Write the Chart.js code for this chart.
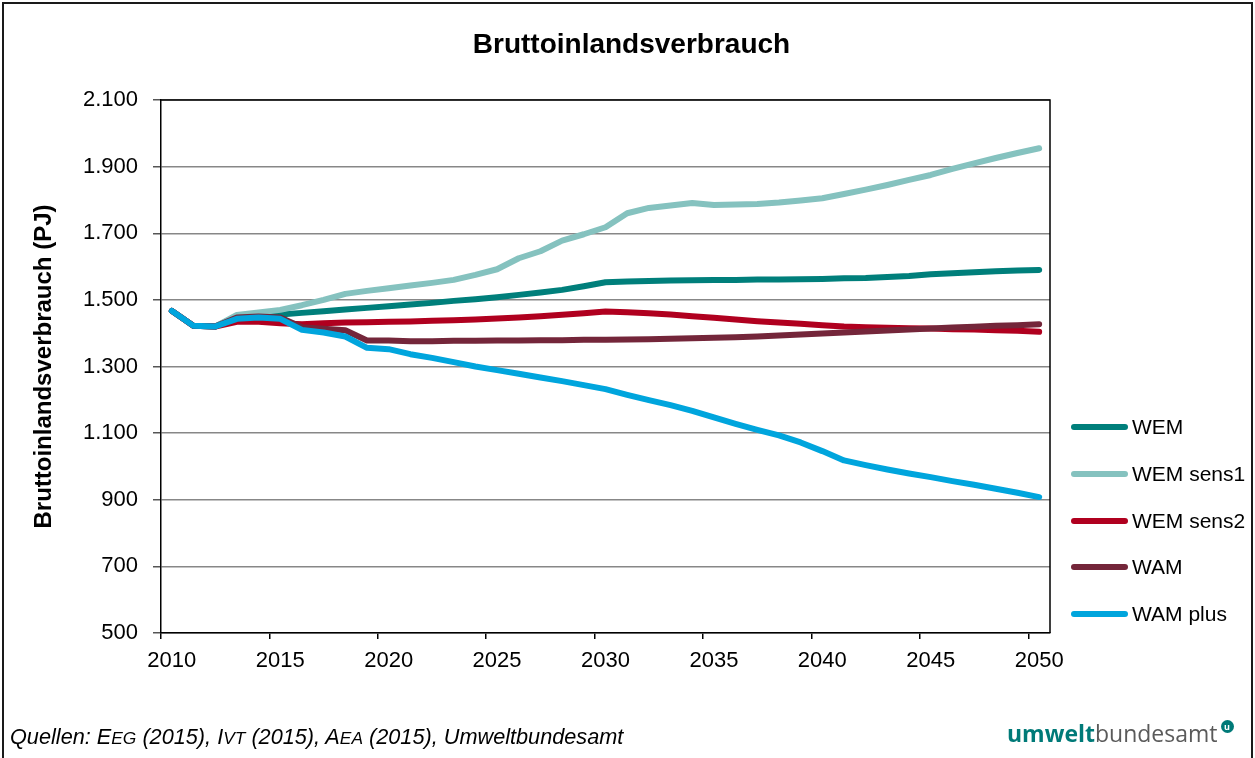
<!DOCTYPE html>
<html>
<head>
<meta charset="utf-8">
<script src="https://cdn.jsdelivr.net/npm/chart.js@4"></script>
<style>
    body { margin: 0; background: #fff; font-family: "Liberation Sans", Arial, sans-serif; }
    #wrap { position: relative; width: 1255px; height: 758px; overflow: hidden; }
    #frame { position: absolute; left: 2px; top: 2px; width: 1247px; height: 800px; border: 2px solid #1a1a1a; }
    #chart { position: absolute; left: 0; top: 0; }
    #title { position: absolute; left: 0; width: 1263px; top: 27px; text-align: center; font-size: 28px; font-weight: bold; line-height: 34px; }
    .leg { position: absolute; left: 1071px; height: 26px; font-size: 21px; line-height: 26px; }
    .leg span.ln { position: absolute; left: 0; top: 10px; width: 57px; height: 6px; border-radius: 3px; }
    .leg span.tx { position: absolute; left: 61px; top: 0; white-space: nowrap; }
    #src { position: absolute; left: 10px; top: 724px; font-size: 21.7px; font-style: italic; white-space: nowrap; }
    #src .sc { font-size: 0.8em; }
    #logo { position: absolute; left: 1007px; top: 718px; font-family: "Open Sans", "Noto Sans", sans-serif; font-size: 23px; line-height: 30px; white-space: nowrap; }
    #logo b { color: #007a78; font-weight: 700; }
    #logo span.g { color: #5a5a5a; }
    #logo i { display: inline-block; vertical-align: top; margin-left: 3px; margin-top: 2px; width: 13px; height: 13px; border-radius: 50%; background: #007a78; color: #fff; font-style: normal; font-size: 9px; line-height: 13px; text-align: center; font-weight: bold; }
</style>
</head>
<body>
<div id="wrap">
    <canvas id="chart" width="1255" height="758"></canvas>
    <div id="frame"></div>
    <div id="title">Bruttoinlandsverbrauch</div>
    <div id="legend"></div>
    <div id="src">Quellen: E<span class="sc">EG</span> (2015), I<span class="sc">VT</span> (2015), A<span class="sc">EA</span> (2015), Umweltbundesamt</div>
    <div id="logo"><b>umwelt</b><span class="g">bundesamt</span><i>u</i></div>
</div>
<script>
const years = ['2010','2011','2012','2013','2014','2015','2016','2017','2018','2019',
    '2020','2021','2022','2023','2024','2025','2026','2027','2028','2029',
    '2030','2031','2032','2033','2034','2035','2036','2037','2038','2039',
    '2040','2041','2042','2043','2044','2045','2046','2047','2048','2049','2050'];

const wem = [1467,1422,1420,1450,1452,1456,1461,1466,1471,1476,
    1481,1486,1491,1497,1502,1508,1515,1522,1530,1541,
    1553,1555,1557,1558,1559,1560,1560,1561,1561,1562,
    1563,1565,1566,1569,1572,1577,1580,1583,1586,1588,1590];

const wemSens1 = [1467,1422,1420,1455,1462,1470,1484,1500,1518,1527,
    1535,1543,1551,1560,1575,1592,1625,1646,1678,1697,
    1718,1760,1776,1783,1791,1785,1786,1788,1792,1798,
    1805,1818,1831,1845,1860,1875,1893,1910,1926,1941,1955];

const wemSens2 = [1467,1422,1420,1434,1434,1430,1427,1430,1432,1433,
    1434,1435,1437,1439,1441,1444,1447,1451,1455,1460,
    1465,1463,1460,1456,1451,1446,1441,1436,1432,1428,
    1424,1420,1418,1416,1415,1414,1412,1411,1409,1407,1404];

const wam = [1467,1422,1420,1447,1450,1447,1418,1413,1409,1378,
    1378,1376,1376,1377,1377,1378,1378,1379,1379,1380,
    1380,1381,1382,1383,1385,1386,1388,1390,1393,1396,
    1399,1402,1405,1408,1411,1414,1417,1419,1422,1424,1427];

const wamPlus = [1467,1422,1420,1443,1447,1443,1410,1402,1390,1356,
    1352,1337,1326,1313,1300,1289,1278,1267,1256,1244,
    1232,1215,1199,1184,1167,1147,1128,1110,1093,1072,
    1046,1018,1004,991,979,968,956,945,933,921,908];

const series = [
    { name: 'WEM', data: wem, color: '#007f7b' },
    { name: 'WEM sens1', data: wemSens1, color: '#85c2bf' },
    { name: 'WEM sens2', data: wemSens2, color: '#b0001f' },
    { name: 'WAM', data: wam, color: '#74263a' },
    { name: 'WAM plus', data: wamPlus, color: '#00a5dd' }
];

const FONT = '"Liberation Sans", Arial, sans-serif';

// legend as html, same order as the reference
const legendTops = [414, 461, 508, 554, 601];
const legend = document.getElementById('legend');
series.forEach((s, i) => {
    const d = document.createElement('div');
    d.className = 'leg';
    d.style.top = legendTops[i] + 'px';
    d.innerHTML = '<span class="ln" style="background:' + s.color + '"></span><span class="tx">' + s.name + '</span>';
    legend.appendChild(d);
});

// top and right edge of the plot area
const plotFrame = {
    id: 'plotFrame',
    beforeDatasetsDraw(chart) {
        const a = chart.chartArea;
        const ctx = chart.ctx;
        ctx.save();
        ctx.strokeStyle = '#000';
        ctx.lineWidth = 1.5;
        ctx.beginPath();
        ctx.moveTo(a.left, a.top);
        ctx.lineTo(a.right, a.top);
        ctx.lineTo(a.right, a.bottom);
        ctx.stroke();
        ctx.restore();
    }
};

new Chart(document.getElementById('chart'), {
    type: 'line',
    data: {
        labels: years,
        datasets: series.map((s, i) => ({
            label: s.name,
            data: s.data,
            borderColor: s.color,
            backgroundColor: s.color,
            borderWidth: 6,
            borderCapStyle: 'round',
            borderJoinStyle: 'round',
            pointRadius: 0,
            fill: false,
            tension: 0,
            order: series.length - i
        }))
    },
    options: {
        responsive: false,
        animation: false,
        events: [],
        layout: { padding: { top: 100, right: 205, left: 0, bottom: 0 } },
        plugins: {
            legend: { display: false },
            tooltip: { enabled: false },
            title: { display: false }
        },
        scales: {
            x: {
                type: 'category',
                offset: true,
                afterFit: (s) => { s.height = 125; },
                grid: {
                    offset: true,
                    drawOnChartArea: false,
                    drawTicks: true,
                    tickLength: 6,
                    lineWidth: 1.5,
                    color: (c) => (c.index % 5 === 0 && c.index < years.length) ? '#000' : 'rgba(0,0,0,0)'
                },
                border: { color: '#000', width: 1.5 },
                ticks: {
                    autoSkip: false,
                    maxRotation: 0,
                    padding: 9,
                    color: '#000',
                    font: { family: FONT, size: 22 },
                    callback: function (v, i) { return i % 5 === 0 ? years[i] : ''; }
                }
            },
            y: {
                min: 500,
                max: 2100,
                afterFit: (s) => { s.width = 161; },
                ticks: {
                    stepSize: 200,
                    padding: 15,
                    color: '#000',
                    font: { family: FONT, size: 22 },
                    callback: (v) => String(v).replace(/\B(?=(\d{3})+(?!\d))/g, '.')
                },
                grid: {
                    color: '#878787',
                    lineWidth: 1.5,
                    tickLength: 8,
                    tickColor: '#555'
                },
                border: { color: '#000', width: 1.5 },
                title: {
                    display: true,
                    text: 'Bruttoinlandsverbrauch (PJ)',
                    color: '#000',
                    font: { family: FONT, size: 24, weight: 'bold' },
                    padding: { top: 30, bottom: 0 }
                }
            }
        }
    },
    plugins: [plotFrame]
});
</script>
</body>
</html>
